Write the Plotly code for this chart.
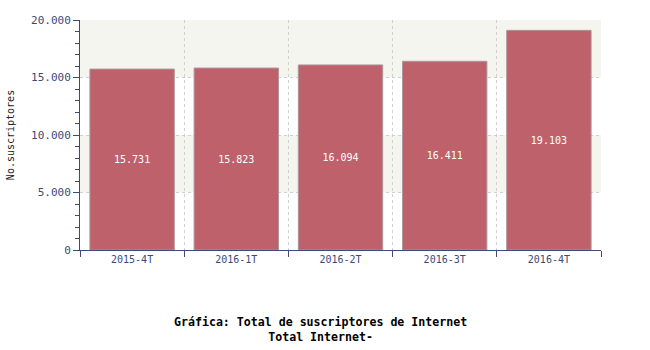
import plotly.graph_objects as go

categories = ["2015-4T", "2016-1T", "2016-2T", "2016-3T", "2016-4T"]
values = [15731, 15823, 16094, 16411, 19103]
labels = ["15.731", "15.823", "16.094", "16.411", "19.103"]

FONT = "DejaVu Sans Mono"
AX = "#3b4a78"

fig = go.Figure()
fig.add_trace(go.Bar(
    x=categories, y=values, text=labels,
    textposition="inside", insidetextanchor="middle",
    textfont=dict(family=FONT, size=10, color="white"),
    marker=dict(color="#be616b", line=dict(color="#b0959a", width=1)),
    width=0.81, hoverinfo="skip",
))

for y0, y1 in [(5000, 10000), (15000, 20000)]:
    fig.add_shape(type="rect", xref="paper", yref="y", x0=0, x1=1, y0=y0, y1=y1,
                  fillcolor="#f5f5f0", line=dict(width=0), layer="below")

fig.update_layout(
    width=650, height=350,
    margin=dict(l=80, r=49, t=20, b=100),
    plot_bgcolor="white", paper_bgcolor="white",
    separators=",.",
    showlegend=False,
    font=dict(family=FONT, size=10, color=AX),
    xaxis=dict(
        tickson="boundaries", ticks="outside", ticklen=6, tickcolor=AX,
        showline=True, linecolor=AX, linewidth=1,
        showgrid=True, gridcolor="#d0d0d0", griddash="dot", gridwidth=1,
        tickfont=dict(family=FONT, size=10, color=AX),
        automargin=False,
    ),
    yaxis=dict(
        range=[0, 20000], tickvals=[0, 5000, 10000, 15000, 20000], tickformat=",d",
        ticks="outside", ticklen=6, tickcolor=AX,
        minor=dict(dtick=1000, ticks="outside", ticklen=4, tickcolor=AX, showgrid=False),
        showline=True, linecolor=AX, linewidth=1,
        showgrid=True, gridcolor="#d0d0d0", griddash="dot", gridwidth=1,
        zeroline=False, automargin=False,
        tickfont=dict(family=FONT, size=11, color=AX),
        title=dict(text="No.suscriptores", font=dict(family=FONT, size=10, color="#222222"), standoff=14),
    ),
    annotations=[dict(
        text="<b>Gráfica: Total de suscriptores de Internet</b><br><b>Total Internet-</b>",
        xref="paper", yref="paper", x=(320 - 80) / 521, y=-0.275, yanchor="top",
        showarrow=False, font=dict(family=FONT, size=11.6, color="black"), align="center",
    )],
)

fig.write_html("out.html")
